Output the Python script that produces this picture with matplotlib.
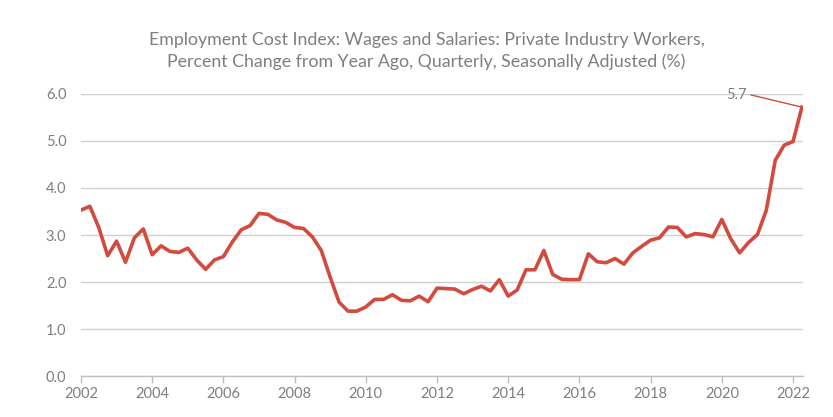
import matplotlib
matplotlib.use("Agg")
import matplotlib.pyplot as plt
import numpy as np

title = ("Employment Cost Index: Wages and Salaries: Private Industry Workers,\n"
         "Percent Change from Year Ago, Quarterly, Seasonally Adjusted (%)")
start_year = 2002
values = [3.53, 3.61, 3.16, 2.56, 2.87, 2.42, 2.94, 3.13,
          2.58, 2.77, 2.65, 2.63, 2.72, 2.47, 2.27, 2.47,
          2.54, 2.85, 3.11, 3.20, 3.46, 3.44, 3.32, 3.27,
          3.16, 3.14, 2.96, 2.67, 2.10, 1.57, 1.38, 1.38,
          1.47, 1.63, 1.63, 1.73, 1.61, 1.60, 1.70, 1.58,
          1.87, 1.86, 1.85, 1.75, 1.84, 1.91, 1.81, 2.05,
          1.70, 1.83, 2.26, 2.26, 2.67, 2.16, 2.06, 2.05,
          2.05, 2.60, 2.43, 2.41, 2.50, 2.38, 2.62, 2.76,
          2.89, 2.94, 3.17, 3.16, 2.96, 3.03, 3.01, 2.96,
          3.33, 2.92, 2.62, 2.84, 3.01, 3.53, 4.59, 4.91,
          4.99, 5.72]
x_ticks = [2002, 2004, 2006, 2008, 2010, 2012, 2014, 2016, 2018, 2020, 2022]
y_ticks = [0.0, 1.0, 2.0, 3.0, 4.0, 5.0, 6.0]
last_label = "5.7"

x = start_year + np.arange(len(values)) / 4.0

gray = "#7f7f7f"
red = "#D24B3E"

fig = plt.figure(figsize=(8.33, 4.17), dpi=100)
ax = fig.add_axes([0.0972, 0.0983, 0.8668, 0.6763])

ax.plot(x, values, color=red, lw=2.6, solid_joinstyle="round", zorder=3)

# annotation for the last value
lx, ly = x[-1], values[-1]
ax.plot([2020.82, lx], [5.98, ly], color=red, lw=1.0, zorder=3, clip_on=False)
ax.text(2020.70, 5.98, last_label, ha="right", va="center", color=gray,
        fontsize=10.5, family="Lato")

ax.set_xlim(2002, 2022.28)
ax.set_ylim(0, 6)
ax.set_yticks(y_ticks)
ax.set_yticklabels([f"{v:.1f}" for v in y_ticks])
ax.set_xticks(x_ticks)
ax.set_xticklabels([str(v) for v in x_ticks])

ax.grid(axis="y", color="#d0d0d0", lw=1.0)
ax.set_axisbelow(True)
for s in ["top", "right", "left"]:
    ax.spines[s].set_visible(False)
ax.spines["bottom"].set_color("#bfbfbf")
ax.spines["bottom"].set_linewidth(1.0)
ax.tick_params(axis="y", length=0, pad=10.5, colors=gray, labelsize=10.5)
ax.tick_params(axis="x", length=5, width=1.0, color="#bfbfbf", colors=gray,
               labelsize=10.5, pad=3)
for lab in ax.get_xticklabels() + ax.get_yticklabels():
    lab.set_family("Lato")

fig.text(0.512, 0.878, title, ha="center", va="center", color=gray,
         fontsize=12.8, family="Lato", linespacing=1.4)

fig.savefig("out.png", dpi=100)
